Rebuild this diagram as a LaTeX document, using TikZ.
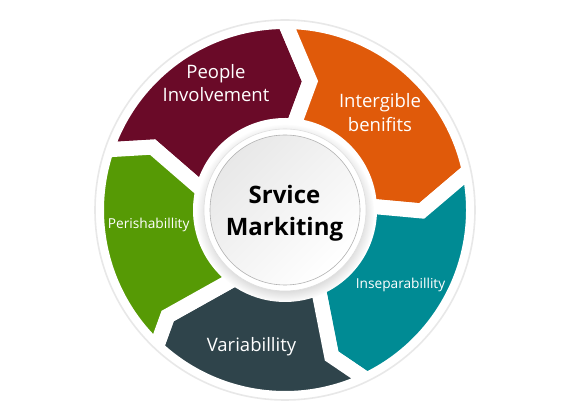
\documentclass[tikz,border=0pt]{standalone}
\usepackage{fontspec}
\setmainfont{Open Sans}
\usepackage{tikz}
\usetikzlibrary{shadows}
\definecolor{wine}{RGB}{106,10,40}
\definecolor{rust}{RGB}{224,90,10}
\definecolor{sea}{RGB}{0,139,148}
\definecolor{slate}{RGB}{47,68,75}
\definecolor{leaf}{RGB}{86,154,5}
\newcommand{\ringout}{188.5}
\newcommand{\ringin}{84.5}
\tikzset{piece/.style={draw=white, line width=15pt, line join=miter},
  lbl/.style={text=white, align=center, inner sep=0pt},
  biglbl/.style={lbl, font=\fontsize{18.5}{23.5}\selectfont},
  smalllbl/.style={lbl, font=\fontsize{13.7}{16}\selectfont}}

\begin{document}
\begin{tikzpicture}[x=1pt,y=1pt]
  %\draw[help lines,step=10] (0,0) grid (570,420);
  \useasboundingbox (0,0) rectangle (570,420);
  \begin{scope}[shift={(285,210)}]
    \filldraw[piece, fill=wine] (161.4:\ringout) arc[start angle=161.4, end angle=90.1, radius=\ringout]
      -- (79:131.1) -- (84.2:\ringin) arc[start angle=84.2, end angle=166.7, radius=\ringin] -- (154.6:146.6) -- cycle;
    \filldraw[piece, fill=rust] (90.1:\ringout) arc[start angle=90.1, end angle=12.1, radius=\ringout]
      -- (-0.4:136.7) -- (2.6:\ringin) arc[start angle=2.6, end angle=84.2, radius=\ringin] -- (79:131.1) -- cycle;
    \filldraw[piece, fill=sea] (12.1:\ringout) arc[start angle=12.1, end angle=-64.3, radius=\ringout]
      -- (-72.3:153.3) -- (-66.9:\ringin) arc[start angle=-66.9, end angle=2.6, radius=\ringin] -- (-0.4:136.7) -- cycle;
    \filldraw[piece, fill=slate] (-64.3:\ringout) arc[start angle=-64.3, end angle=-133.1, radius=\ringout]
      -- (-137.9:158.2) -- (-126.1:\ringin) arc[start angle=-126.1, end angle=-66.9, radius=\ringin] -- (-72.3:153.3) -- cycle;
    \filldraw[piece, fill=leaf] (226.9:\ringout) arc[start angle=226.9, end angle=161.4, radius=\ringout]
      -- (154.6:146.6) -- (166.7:\ringin) arc[start angle=166.7, end angle=233.9, radius=\ringin] -- (222.1:158.2) -- cycle;
    \draw[gray!18, line width=1.6pt] (0,0) circle (190);
    % centre disc
    \fill[white, circular drop shadow={shadow xshift=0pt, shadow yshift=-3pt, shadow scale=1.1, opacity=0.3}]
      (0,0) circle (81);
    \draw[gray!25, line width=0.6pt] (0,0) circle (81);
    \shade[top color=gray!18, bottom color=white, shading angle=45] (0,0) circle (75);
    \draw[gray!60, line width=0.6pt] (0,0) circle (75);
  \end{scope}
  \node[biglbl] (people) at (216,336.7) {People\\Involvement};
  \node[biglbl] (benefits) at (380,307.4) {Intergible\\benifits};
  \node[smalllbl] (perish) at (148.7,195.4) {Perishabillity};
  \node[smalllbl] (insep) at (400.5,135) {Inseparabillity};
  \node[biglbl] (vari) at (251.5,73.7) {Variabillity};
  \node[align=center, inner sep=0pt, font=\bfseries\fontsize{24}{32}\selectfont] (core) at (284.5,206.7) {Srvice\\Markiting};
\end{tikzpicture}
\end{document}
